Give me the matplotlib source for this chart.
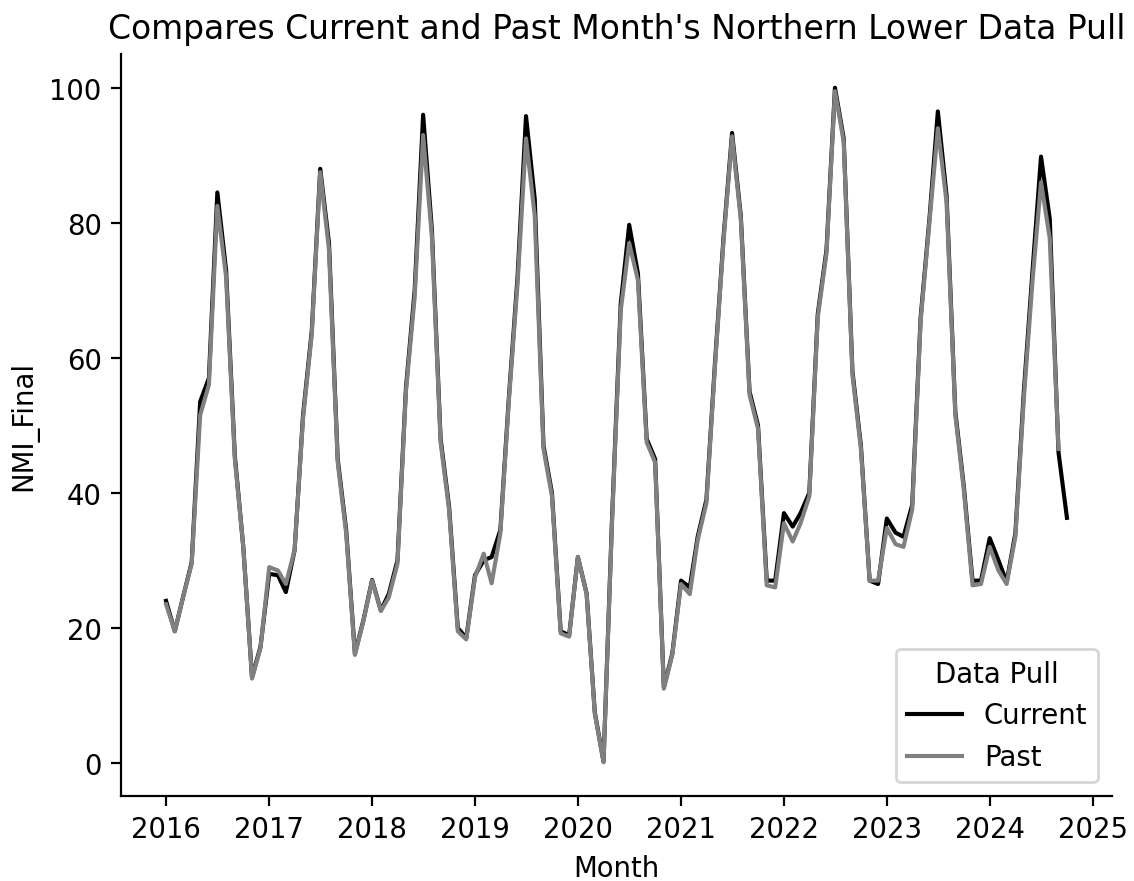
import pandas as pd
import matplotlib.pyplot as plt

# monthly values, Jan 2016 onwards
current_values = [
    24, 19.5, 24.5, 29.7, 53.5, 57, 84.5, 73, 45.5, 32, 12.7, 17.2,
    28, 27.8, 25.3, 31.5, 51.5, 64, 88, 77, 45, 34.5, 16.2, 21.1,
    27.1, 22.6, 25, 30, 55.5, 70, 96, 79, 48, 38, 20, 18.5,
    27.8, 30, 30.5, 34.5, 54, 72, 95.8, 83.5, 47, 40, 19.5, 18.9,
    30.5, 25.1, 7.5, 0.2, 36, 68, 79.7, 72.5, 48, 45, 11.2, 16.2,
    27, 26, 33.5, 39, 59, 78, 93.3, 81, 55, 50, 27, 27,
    37, 35, 37, 40, 66.5, 76, 100, 92.5, 58, 47, 27, 26.5,
    36.2, 34.1, 33.5, 38.2, 66, 80.5, 96.5, 84, 52, 41, 27, 27,
    33.3, 30, 26.8, 34, 55, 73, 89.8, 80.6, 46, 36.3,
]
past_values = [
    23.5, 19.5, 24.5, 29.5, 51.5, 56, 82.5, 72, 45, 32, 12.5, 17,
    29, 28.5, 26.5, 31.5, 51, 63.5, 87.5, 76, 44.5, 34, 16, 21,
    27, 22.5, 24.5, 29.5, 55, 69, 93, 78, 47.5, 37.5, 19.5, 18.3,
    27.5, 31, 26.6, 34, 53.5, 71, 92.5, 81, 46.5, 39.5, 19.2, 18.7,
    30.5, 25, 7.3, 0.1, 35.5, 67, 77, 71.5, 47.5, 44.5, 11, 16,
    26.5, 25, 33, 38.5, 58.5, 77.5, 92.8, 80.5, 54.5, 49.5, 26.3, 26,
    35.5, 32.8, 35.5, 39.5, 66, 75.5, 99.5, 92, 57.5, 46.5, 27, 27,
    34.8, 32.4, 32, 37.5, 65.5, 80, 94, 83, 51.5, 40.5, 26.3, 26.5,
    32, 28.5, 26.5, 33.5, 54, 71.5, 86, 77.7, 46.5,
]
current_months = pd.date_range("2016-01-01", periods=len(current_values), freq="MS")
past_months = pd.date_range("2016-01-01", periods=len(past_values), freq="MS")

dpi = 198
fig = plt.figure(figsize=(1134 / dpi, 882 / dpi), dpi=dpi)
ax = fig.add_axes([0.1067, 0.0964, 0.8739, 0.8412])

ax.plot(current_months, current_values, color="black", lw=1.5, label="Current")
ax.plot(past_months, past_values, color="grey", lw=1.5, label="Past")

ax.set_title("Compares Current and Past Month's Northern Lower Data Pull", fontsize=12)
ax.set_xlabel("Month")
ax.set_ylabel("NMI_Final")
ax.spines["top"].set_visible(False)
ax.spines["right"].set_visible(False)
ax.legend(title="Data Pull", loc="lower right")

fig.savefig("out.png", dpi=dpi)
